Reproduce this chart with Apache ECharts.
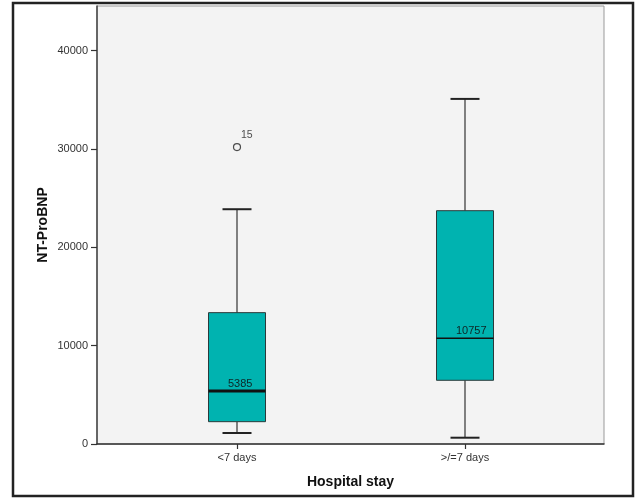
<!DOCTYPE html>
<html>
<head>
<meta charset="utf-8">
<script src="https://cdn.jsdelivr.net/npm/echarts@6/dist/echarts.min.js"></script>
<style>
html,body{margin:0;padding:0;background:#fff;}
#main{width:637px;height:498px;}
</style>
</head>
<body>
<div id="main"></div>
<script>
var categories = ['<7 days', '>/=7 days'];
var whiskerLow = [1120, 640];
var q1 = [2270, 6480];
var medians = [5385, 10757];
var q3 = [13360, 23730];
var whiskerHigh = [23880, 35100];
var outliers = [[0, 30200, '15']];
var yTicks = [0, 10000, 20000, 30000, 40000];
var yMax = 44550;

var boxData = categories.map(function (c, i) {
  return [i, whiskerLow[i], q1[i], medians[i], q3[i], whiskerHigh[i]];
});

var chart = echarts.init(document.getElementById('main'));
var FONT = 'Liberation Sans';
var BOX_W = 57, CAP_W = 29;

function renderBox(params, api) {
  var i = api.value(0);
  var pLow = api.coord([i, api.value(1)]);
  var pQ1 = api.coord([i, api.value(2)]);
  var pMed = api.coord([i, api.value(3)]);
  var pQ3 = api.coord([i, api.value(4)]);
  var pHigh = api.coord([i, api.value(5)]);
  var x = pMed[0];
  var medW = params.dataIndex === 0 ? 3 : 1.5;
  var lineStyle = {stroke: '#333', lineWidth: 1.2};
  return {
    type: 'group',
    children: [
      {type: 'line', shape: {x1: x, y1: pHigh[1], x2: x, y2: pQ3[1]}, style: lineStyle},
      {type: 'line', shape: {x1: x, y1: pQ1[1], x2: x, y2: pLow[1]}, style: lineStyle},
      {type: 'line', shape: {x1: x - CAP_W / 2, y1: pHigh[1], x2: x + CAP_W / 2, y2: pHigh[1]}, style: {stroke: '#222', lineWidth: 2}},
      {type: 'line', shape: {x1: x - CAP_W / 2, y1: pLow[1], x2: x + CAP_W / 2, y2: pLow[1]}, style: {stroke: '#222', lineWidth: 2}},
      {type: 'rect', shape: {x: x - BOX_W / 2, y: pQ3[1], width: BOX_W, height: pQ1[1] - pQ3[1]},
        style: {fill: '#00B3B0', stroke: '#2a3a3a', lineWidth: 1}},
      {type: 'line', shape: {x1: x - BOX_W / 2, y1: pMed[1], x2: x + BOX_W / 2, y2: pMed[1]},
        style: {stroke: '#111', lineWidth: medW}},
      {type: 'text', style: {text: String(api.value(3)), x: x - 9, y: pMed[1] - 2,
        align: 'left', verticalAlign: 'bottom', fill: '#0d2626', font: '11px ' + FONT}}
    ]
  };
}

chart.setOption({
  animation: false,
  graphic: [{
    type: 'rect', shape: {x: 13, y: 3, width: 620, height: 493},
    style: {fill: 'none', stroke: '#222', lineWidth: 2.5}, silent: true, z: 100
  }],
  grid: [
    {left: 97, right: 33, top: 6, bottom: 54, show: true, backgroundColor: '#F3F3F3', borderColor: '#999', borderWidth: 1},
    {left: 123, right: 58, top: 6, bottom: 54}
  ],
  xAxis: [
    {gridIndex: 0, type: 'value', min: 0, max: 1,
      axisLine: {show: true, onZero: false, lineStyle: {color: '#333', width: 1.5}},
      axisTick: {show: false}, axisLabel: {show: false}, splitLine: {show: false},
      name: 'Hospital stay', nameLocation: 'middle', nameGap: 31, nameMoveOverlap: false,
      nameTextStyle: {fontFamily: FONT, fontSize: 14, fontWeight: 'bold', color: '#111'}},
    {gridIndex: 1, type: 'category', data: categories, boundaryGap: true,
      axisLine: {show: false},
      axisTick: {show: true, alignWithLabel: true, length: 5, lineStyle: {color: '#333', width: 1.2}},
      axisLabel: {fontFamily: FONT, fontSize: 11, color: '#333', margin: 8}}
  ],
  yAxis: [
    {gridIndex: 0, type: 'value', min: 0, max: yMax,
      axisLine: {show: true, lineStyle: {color: '#444', width: 1.5}},
      axisTick: {show: true, length: 6, inside: false, customValues: yTicks, lineStyle: {color: '#333', width: 1.2}},
      axisLabel: {customValues: yTicks, formatter: function (v) { return String(v); },
        fontFamily: FONT, fontSize: 11, color: '#333', margin: 9},
      splitLine: {show: false},
      name: 'NT-ProBNP', nameLocation: 'middle', nameGap: 47, nameMoveOverlap: false,
      nameTextStyle: {fontFamily: FONT, fontSize: 14, fontWeight: 'bold', color: '#111'}},
    {gridIndex: 1, type: 'value', min: 0, max: yMax, show: false}
  ],
  series: [
    {type: 'custom', xAxisIndex: 1, yAxisIndex: 1, data: boxData, renderItem: renderBox},
    {type: 'scatter', xAxisIndex: 1, yAxisIndex: 1, data: outliers,
      symbol: 'circle', symbolSize: 7,
      itemStyle: {color: 'rgba(0,0,0,0)', borderColor: '#222', borderWidth: 1.2},
      label: {show: true, formatter: function (p) { return p.data[2]; },
        position: [8, -8], align: 'left', verticalAlign: 'middle',
        fontFamily: FONT, fontSize: 10.5, color: '#222'}}
  ]
});
</script>
</body>
</html>
